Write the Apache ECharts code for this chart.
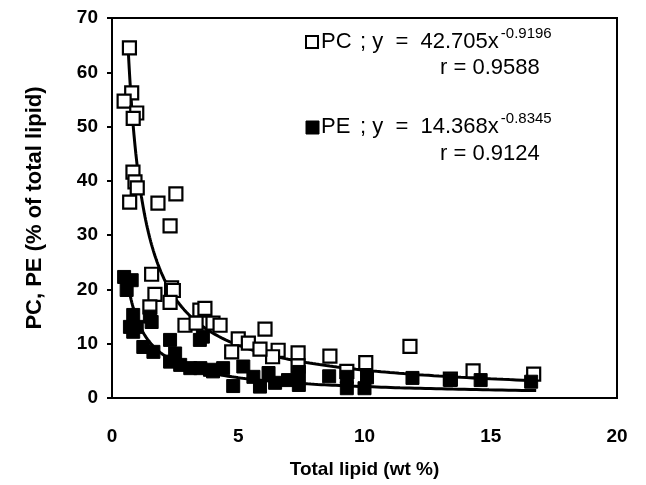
<!DOCTYPE html>
<html>
<head>
<meta charset="utf-8">
<script src="https://cdn.jsdelivr.net/npm/echarts@6/dist/echarts.min.js"></script>
<style>html,body{margin:0;padding:0;background:#fff}#c{width:646px;height:485px}</style>
</head>
<body>
<div id="c"></div>
<script>
// ---- data ----
const xTicks = [0, 5, 10, 15, 20];
const yTicks = [0, 10, 20, 30, 40, 50, 60, 70];
const pcX = [0.69, 0.78, 0.48, 0.98, 0.84, 0.83, 0.91, 1.0, 0.7, 1.82, 2.53, 2.3, 1.57, 2.36, 1.7, 2.43, 1.5, 2.3, 3.48, 3.68, 2.89, 3.33, 4.0, 4.28, 6.06, 5.0, 5.4, 4.74, 6.58, 6.36, 7.37, 8.63, 7.37, 10.05, 9.3, 11.8, 13.4, 14.3, 16.7, 5.86];
const pcY = [64.5, 56.2, 54.7, 52.5, 51.5, 41.6, 39.8, 38.7, 36.1, 35.9, 37.6, 31.7, 22.8, 20.3, 19.1, 19.8, 16.8, 17.6, 16.2, 16.5, 13.4, 13.8, 13.8, 13.4, 12.7, 10.9, 10.1, 8.5, 8.8, 7.6, 8.3, 7.7, 5.9, 6.5, 4.9, 9.5, 3.5, 5.0, 4.4, 9.0];
const peX = [0.48, 0.78, 0.58, 0.84, 1.5, 0.71, 0.98, 0.84, 2.3, 1.24, 1.64, 2.5, 2.3, 2.7, 3.1, 3.5, 3.88, 3.48, 3.6, 4.0, 4.4, 4.8, 5.2, 5.6, 5.86, 6.2, 6.46, 6.97, 7.4, 7.4, 8.6, 9.3, 10.1, 9.3, 10.0, 11.9, 13.4, 14.6, 16.6, 1.57];
const peY = [22.3, 21.7, 19.9, 15.3, 15.0, 13.1, 13.1, 12.2, 10.7, 9.4, 8.5, 8.2, 6.7, 6.1, 5.5, 5.5, 5.2, 10.7, 11.3, 4.9, 5.5, 2.2, 5.8, 3.9, 2.1, 4.6, 2.8, 3.3, 2.4, 4.8, 4.0, 3.9, 3.8, 1.8, 1.8, 3.7, 3.3, 3.3, 3.0, 14.0];
// power-law fits printed on the chart: y = a * x^b
const pcFit = {a: 42.705, b: -0.9196, from: 0.65, to: 16.8};
const peFit = {a: 14.368, b: -0.8345, from: 0.58, to: 16.8};
const pcEq = '; y  =  42.705x', pcExp = '-0.9196', pcR = 'r = 0.9588';
const peEq = '; y  =  14.368x', peExp = '-0.8345', peR = 'r = 0.9124';

function zip(xs, ys) { return xs.map((x, i) => [x, ys[i]]); }
function curve(f) {
  const pts = [];
  const n = 200;
  for (let i = 0; i <= n; i++) {
    const x = f.from * Math.pow(f.to / f.from, i / n);
    pts.push([x, f.a * Math.pow(x, f.b)]);
  }
  return pts;
}

const FONT = 'Liberation Sans, Arial, sans-serif';
const ctx = document.createElement('canvas').getContext('2d');
function textWidth(t, size) { ctx.font = size + 'px ' + FONT; return ctx.measureText(t).width; }

const EQ_LEFT = 360, EQ_SIZE = 22, EXP_SIZE = 15;
const pcExpLeft = EQ_LEFT + textWidth(pcEq, EQ_SIZE) + 2;
const peExpLeft = EQ_LEFT + textWidth(peEq, EQ_SIZE) + 2;

const chart = echarts.init(document.getElementById('c'), null, {renderer: 'canvas'});
const textBase = {fontFamily: FONT, fill: '#000'};
chart.setOption({
  animation: false,
  backgroundColor: '#fff',
  grid: {left: 112, right: 29, top: 18, bottom: 87, show: true, borderColor: '#000', borderWidth: 2},
  xAxis: {
    type: 'value', min: xTicks[0], max: xTicks[xTicks.length - 1], interval: 5,
    name: 'Total lipid (wt %)', nameLocation: 'middle', nameGap: 62,
    nameTextStyle: {fontFamily: FONT, fontWeight: 'bold', fontSize: 19, color: '#000'},
    axisLine: {lineStyle: {color: '#000', width: 2}},
    axisTick: {show: false},
    axisLabel: {fontFamily: FONT, fontWeight: 'bold', fontSize: 19, color: '#000', margin: 29},
    splitLine: {show: false}
  },
  yAxis: {
    type: 'value', min: yTicks[0], max: yTicks[yTicks.length - 1], interval: 10,
    name: 'PC, PE (% of total lipid)', nameLocation: 'middle', nameGap: 66, nameRotate: 90,
    nameTextStyle: {fontFamily: FONT, fontWeight: 'bold', fontSize: 22, color: '#000'},
    axisLine: {lineStyle: {color: '#000', width: 2}},
    axisTick: {show: true, length: 5, lineStyle: {color: '#000', width: 2}},
    axisLabel: {fontFamily: FONT, fontWeight: 'bold', fontSize: 19, color: '#000', margin: 14},
    splitLine: {show: false}
  },
  series: [
    {type: 'line', data: curve(pcFit), showSymbol: false, lineStyle: {color: '#000', width: 3}, z: 2},
    {type: 'line', data: curve(peFit), showSymbol: false, lineStyle: {color: '#000', width: 3}, z: 2},
    {name: 'PC', type: 'scatter', data: zip(pcX, pcY), symbol: 'rect', symbolSize: 13,
     itemStyle: {color: '#fff', borderColor: '#000', borderWidth: 2.2, opacity: 1}, z: 3},
    {name: 'PE', type: 'scatter', data: zip(peX, peY), symbol: 'rect', symbolSize: 13,
     itemStyle: {color: '#000', borderColor: '#000', borderWidth: 1, opacity: 1}, z: 4}
  ],
  graphic: [
    {type: 'rect', shape: {x: 306, y: 36, width: 12, height: 12}, style: {fill: '#fff', stroke: '#000', lineWidth: 2}},
    {type: 'text', left: 321, top: 31, style: Object.assign({text: 'PC', fontSize: EQ_SIZE}, textBase)},
    {type: 'text', left: EQ_LEFT, top: 31, style: Object.assign({text: pcEq, fontSize: EQ_SIZE}, textBase)},
    {type: 'text', left: pcExpLeft, top: 26, style: Object.assign({text: pcExp, fontSize: EXP_SIZE}, textBase)},
    {type: 'text', left: 440, top: 57, style: Object.assign({text: pcR, fontSize: EQ_SIZE}, textBase)},
    {type: 'rect', shape: {x: 306, y: 121, width: 13, height: 13}, style: {fill: '#000', stroke: '#000', lineWidth: 1}},
    {type: 'text', left: 321, top: 116, style: Object.assign({text: 'PE', fontSize: EQ_SIZE}, textBase)},
    {type: 'text', left: EQ_LEFT, top: 116, style: Object.assign({text: peEq, fontSize: EQ_SIZE}, textBase)},
    {type: 'text', left: peExpLeft, top: 111, style: Object.assign({text: peExp, fontSize: EXP_SIZE}, textBase)},
    {type: 'text', left: 440, top: 143, style: Object.assign({text: peR, fontSize: EQ_SIZE}, textBase)}
  ]
});
</script>
</body>
</html>
